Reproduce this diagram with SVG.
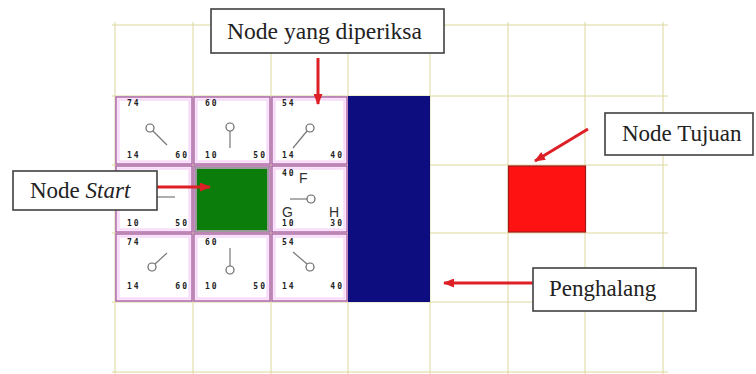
<svg xmlns="http://www.w3.org/2000/svg" width="756" height="374" viewBox="0 0 756 374">
<defs>
<style>
.grid line{stroke:#ddd89c;stroke-width:1}
.cf{fill:#fff;stroke:#a85ca8;stroke-width:1.4}
.ci{fill:none;stroke:#f9dcf9;stroke-width:2.5}
.num{font-family:"DejaVu Sans Mono",monospace;font-weight:bold;font-size:8px;letter-spacing:2px;fill:#222}
.sym{stroke:#777;stroke-width:1.2;fill:none}
.symc{stroke:#666;stroke-width:1.2;fill:#fff}
.big{font-family:"Liberation Sans",Arial,sans-serif;font-size:14px;fill:#333}
.lbox{fill:#fff;stroke:#404040;stroke-width:1.6}
.ltxt{font-family:"Liberation Serif","Times New Roman",serif;font-size:23px;fill:#222}
.arr{stroke:#dd1f26;stroke-width:3;fill:none;marker-end:url(#ah)}
</style>
<marker id="ah" markerUnits="userSpaceOnUse" markerWidth="11" markerHeight="9" refX="10" refY="4.5" orient="auto">
<path d="M0,0 L11,4.5 L0,9 z" fill="#dd1f26"/>
</marker>
</defs>
<rect width="756" height="374" fill="#fff"/>
<g id="grid" class="grid">
<line x1="115" y1="22" x2="115" y2="374"/>
<line x1="193" y1="22" x2="193" y2="374"/>
<line x1="271" y1="22" x2="271" y2="374"/>
<line x1="348" y1="22" x2="348" y2="374"/>
<line x1="430" y1="22" x2="430" y2="374"/>
<line x1="508" y1="22" x2="508" y2="374"/>
<line x1="585" y1="22" x2="585" y2="374"/>
<line x1="663" y1="22" x2="663" y2="374"/>
<line x1="112" y1="25" x2="668" y2="25"/>
<line x1="112" y1="96" x2="668" y2="96"/>
<line x1="112" y1="165" x2="668" y2="165"/>
<line x1="112" y1="233" x2="668" y2="233"/>
<line x1="112" y1="302" x2="668" y2="302"/>
<line x1="112" y1="372" x2="668" y2="372"/>
</g>
<g id="cell-tl">
<rect class="cf" x="116" y="97" width="76" height="67"/><rect class="ci" x="118.5" y="99.5" width="71" height="62"/>
<text class="num" x="127" y="106">74</text><text class="num" x="127" y="158">14</text><text class="num" x="189" y="158" text-anchor="end">60</text>
<line class="sym" x1="153" y1="131" x2="167" y2="145"/><circle class="symc" cx="150" cy="128" r="4"/>
</g>
<g id="cell-tm">
<rect class="cf" x="194" y="97" width="76" height="67"/><rect class="ci" x="196.5" y="99.5" width="71" height="62"/>
<text class="num" x="205" y="106">60</text><text class="num" x="205" y="158">10</text><text class="num" x="267" y="158" text-anchor="end">50</text>
<line class="sym" x1="230" y1="131" x2="230" y2="148"/><circle class="symc" cx="230" cy="127" r="4"/>
</g>
<g id="cell-tr">
<rect class="cf" x="272" y="97" width="75" height="67"/><rect class="ci" x="274.5" y="99.5" width="70" height="62"/>
<text class="num" x="282" y="106">54</text><text class="num" x="282" y="158">14</text><text class="num" x="344" y="158" text-anchor="end">40</text>
<line class="sym" x1="307" y1="131" x2="293" y2="148"/><circle class="symc" cx="310" cy="128" r="4"/>
</g>
<g id="cell-ml">
<rect class="cf" x="116" y="166" width="76" height="66"/><rect class="ci" x="118.5" y="168.5" width="71" height="61"/>
<text class="num" x="127" y="226">10</text><text class="num" x="189" y="226" text-anchor="end">50</text>
<line class="sym" x1="150" y1="197" x2="175" y2="197"/>
</g>
<g id="start">
<rect class="cf" x="194" y="166" width="76" height="66" stroke="#e07aa0"/>
<rect x="196" y="168" width="72" height="63" fill="#0a7d0a" stroke="#9a9a9a" stroke-width="2"/>
</g>
<g id="cell-mr">
<rect class="cf" x="272" y="166" width="75" height="66"/><rect class="ci" x="274.5" y="168.5" width="70" height="61"/>
<text class="num" x="282" y="176">40</text><text class="num" x="282" y="226">10</text><text class="num" x="344" y="226" text-anchor="end">30</text>
<text class="big" x="299" y="183">F</text><text class="big" x="282" y="217">G</text><text class="big" x="329" y="217">H</text>
<line class="sym" x1="307" y1="199" x2="290" y2="199"/><circle class="symc" cx="311" cy="199" r="4"/>
</g>
<g id="cell-bl">
<rect class="cf" x="116" y="234" width="76" height="67"/><rect class="ci" x="118.5" y="236.5" width="71" height="62"/>
<text class="num" x="127" y="245">74</text><text class="num" x="127" y="289">14</text><text class="num" x="189" y="289" text-anchor="end">60</text>
<line class="sym" x1="155" y1="264" x2="167" y2="253"/><circle class="symc" cx="152" cy="267" r="4"/>
</g>
<g id="cell-bm">
<rect class="cf" x="194" y="234" width="76" height="67"/><rect class="ci" x="196.5" y="236.5" width="71" height="62"/>
<text class="num" x="205" y="245">60</text><text class="num" x="205" y="289">10</text><text class="num" x="267" y="289" text-anchor="end">50</text>
<line class="sym" x1="230" y1="266" x2="230" y2="248"/><circle class="symc" cx="230" cy="270" r="4"/>
</g>
<g id="cell-br">
<rect class="cf" x="272" y="234" width="75" height="67"/><rect class="ci" x="274.5" y="236.5" width="70" height="62"/>
<text class="num" x="282" y="245">54</text><text class="num" x="282" y="289">14</text><text class="num" x="344" y="289" text-anchor="end">40</text>
<line class="sym" x1="293" y1="252" x2="307" y2="264"/><circle class="symc" cx="310" cy="267" r="4"/>
</g>
<g id="obstacle"><rect x="348" y="96" width="82" height="206" fill="#0d0d80"/></g>
<g id="target"><rect x="508.5" y="166" width="77" height="66" fill="#ff1212" stroke="#a01818" stroke-width="1.2"/></g>
<g id="connectors">
<line class="arr" x1="318" y1="58" x2="318" y2="104"/>
<line class="arr" x1="157" y1="187" x2="210" y2="187"/>
<line class="arr" x1="588" y1="129" x2="535" y2="161"/>
<line class="arr" x1="533" y1="283" x2="444" y2="283"/>
</g>
<g id="label-diperiksa"><rect class="lbox" x="211" y="9" width="233" height="44"/><text class="ltxt" x="227" y="39" textLength="195" lengthAdjust="spacingAndGlyphs">Node yang diperiksa</text></g>
<g id="label-start"><rect class="lbox" x="13" y="171" width="144" height="39"/><text class="ltxt" x="30" y="198">Node <tspan font-style="italic">Start</tspan></text></g>
<g id="label-tujuan"><rect class="lbox" x="605" y="113" width="148" height="42"/><text class="ltxt" x="622" y="141">Node Tujuan</text></g>
<g id="label-penghalang"><rect class="lbox" x="533" y="268" width="163" height="43"/><text class="ltxt" x="549" y="296">Penghalang</text></g>
</svg>
